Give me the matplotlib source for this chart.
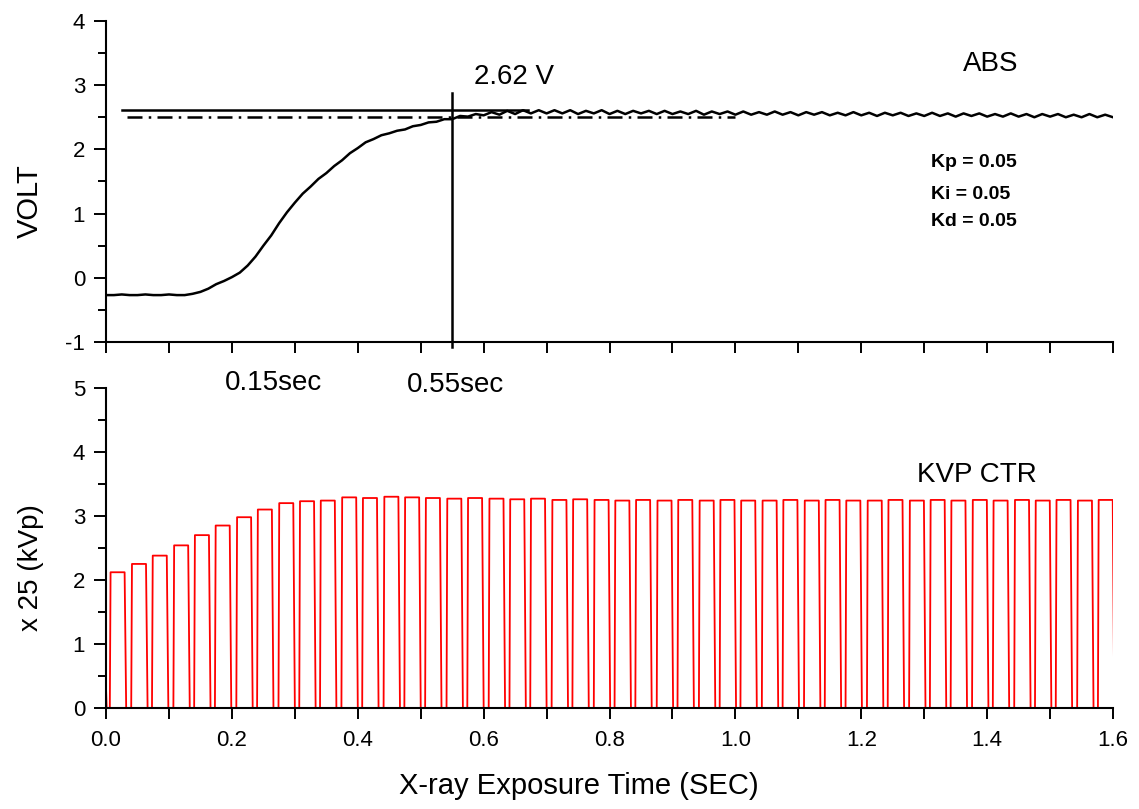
import numpy as np
import matplotlib
matplotlib.use("Agg")
import matplotlib.pyplot as plt
from matplotlib.ticker import MultipleLocator, FormatStrFormatter

plt.rcParams['font.family'] = ['Liberation Sans', 'DejaVu Sans']
plt.rcParams['axes.unicode_minus'] = False

# ABS output (VOLT), sampled every 0.0125 s from 0 to 1.6 s
volt_step = 0.0125
volt = [-0.27, -0.27, -0.26, -0.27, -0.27, -0.26, -0.27, -0.27, -0.26, -0.27,
        -0.27, -0.25, -0.22, -0.17, -0.10, -0.05, 0.01, 0.08, 0.19, 0.33,
        0.50, 0.66, 0.85, 1.02, 1.17, 1.31, 1.42, 1.54, 1.63, 1.74,
        1.83, 1.94, 2.02, 2.11, 2.16, 2.22, 2.25, 2.29, 2.31, 2.36,
        2.38, 2.42, 2.43, 2.47, 2.47, 2.52, 2.51, 2.55, 2.53, 2.58,
        2.54, 2.60, 2.55, 2.61, 2.56, 2.61, 2.56, 2.61, 2.56, 2.61,
        2.55, 2.60, 2.56, 2.61, 2.55, 2.60, 2.55, 2.60, 2.56, 2.60,
        2.55, 2.60, 2.55, 2.59, 2.55, 2.60, 2.54, 2.59, 2.55, 2.59,
        2.54, 2.59, 2.54, 2.58, 2.54, 2.59, 2.54, 2.58, 2.53, 2.58,
        2.54, 2.58, 2.53, 2.57, 2.53, 2.58, 2.53, 2.57, 2.52, 2.57,
        2.53, 2.57, 2.52, 2.56, 2.52, 2.57, 2.52, 2.56, 2.51, 2.56,
        2.52, 2.56, 2.51, 2.55, 2.51, 2.56, 2.51, 2.55, 2.50, 2.55,
        2.51, 2.55, 2.50, 2.54, 2.50, 2.55, 2.50, 2.54, 2.50]

ref_high = 2.62      # solid reference line
ref_low = 2.50       # dash-dot line
t_mark = 0.55        # vertical marker

# KVP CTR pulse train: rise time and top level of each pulse (x 25 kVp)
kvp_rise = [0.006, 0.040, 0.073, 0.107, 0.140, 0.173, 0.207, 0.240, 0.274, 0.307,
            0.340, 0.374, 0.407, 0.441, 0.474, 0.507, 0.541, 0.574, 0.608, 0.641,
            0.674, 0.708, 0.741, 0.775, 0.808, 0.841, 0.875, 0.908, 0.942, 0.975,
            1.008, 1.042, 1.075, 1.109, 1.142, 1.175, 1.209, 1.242, 1.276, 1.309,
            1.342, 1.376, 1.409, 1.443, 1.476, 1.509, 1.543, 1.576]
kvp_top = [2.12, 2.25, 2.38, 2.54, 2.70, 2.85, 2.98, 3.10, 3.20, 3.23,
           3.24, 3.29, 3.28, 3.30, 3.29, 3.28, 3.27, 3.28, 3.27, 3.26,
           3.27, 3.25, 3.26, 3.25, 3.24, 3.25, 3.24, 3.25, 3.24, 3.25,
           3.24, 3.24, 3.25, 3.24, 3.25, 3.24, 3.24, 3.25, 3.24, 3.25,
           3.24, 3.25, 3.24, 3.25, 3.24, 3.25, 3.24, 3.25]
kvp_start = 0.3

volt_t = np.arange(len(volt)) * volt_step

kt, kv = [0.0, 0.001], [kvp_start, 0.0]
for r, h in zip(kvp_rise, kvp_top):
    kt += [r, r + 0.0012, r + 0.0235, r + 0.026]
    kv += [0.0, h, h, 0.0]

fig = plt.figure(figsize=(11.39, 8.09), dpi=100)
ax1 = fig.add_axes([0.0931, 0.5773, 0.8841, 0.3968])
ax2 = fig.add_axes([0.0931, 0.1249, 0.8841, 0.3956])

for ax in (ax1, ax2):
    ax.spines['top'].set_visible(False)
    ax.spines['right'].set_visible(False)
    for s in ('left', 'bottom'):
        ax.spines[s].set_linewidth(1.5)
    ax.set_xlim(0, 1.6)
    ax.tick_params(which='major', length=9, width=1.4, pad=6, labelsize=16)
    ax.tick_params(which='minor', length=6, width=1.4)
    ax.yaxis.set_major_locator(MultipleLocator(1))
    ax.yaxis.set_minor_locator(MultipleLocator(0.5))

# top panel
ax1.plot(volt_t, volt, color='black', lw=1.8)
ax1.plot([0.025, 0.67], [ref_high, ref_high], color='black', lw=1.8)
ax1.plot([0.033, 1.0], [ref_low, ref_low], color='black', lw=1.8,
         linestyle=(0, (6, 2.5, 1, 2.5)))
ax1.plot([t_mark, t_mark], [2.88, -1.08], color='black', lw=1.8, clip_on=False)
ax1.set_ylim(-1, 4)
ax1.xaxis.set_major_locator(MultipleLocator(0.1))
ax1.tick_params(axis='x', labelbottom=False, length=8)
ax1.set_ylabel('VOLT', fontsize=21)
ax1.yaxis.set_label_coords(-0.062, 0.44)

ax1.text(0.585, 3.13, '2.62 V', fontsize=20, va='center')
ax1.text(1.362, 3.33, 'ABS', fontsize=20, va='center')
ax1.text(1.31, 1.79, 'Kp = 0.05', fontsize=14, fontweight='bold', va='center')
ax1.text(1.31, 1.29, 'Ki = 0.05', fontsize=14, fontweight='bold', va='center')
ax1.text(1.31, 0.87, 'Kd = 0.05', fontsize=14, fontweight='bold', va='center')

# time marks between the panels
fig.text(274 / 1139, 1 - 383 / 809, '0.15sec', fontsize=20, ha='center', va='center')
fig.text(456 / 1139, 1 - 385 / 809, '0.55sec', fontsize=20, ha='center', va='center')

# bottom panel
ax2.patch.set_visible(False)
ax2.plot(kt, kv, color='#ff0000', lw=1.3)
ax2.set_ylim(0, 5)
ax2.xaxis.set_major_locator(MultipleLocator(0.2))
ax2.xaxis.set_minor_locator(MultipleLocator(0.1))
ax2.tick_params(axis='x', which='major', length=8, pad=8)
ax2.tick_params(axis='x', which='minor', length=8)
ax2.xaxis.set_major_formatter(FormatStrFormatter('%.1f'))
ax2.set_ylabel('x 25 (kVp)', fontsize=20)
ax2.yaxis.set_label_coords(-0.062, 0.44)
ax2.set_xlabel('X-ray Exposure Time (SEC)', fontsize=21)
ax2.xaxis.set_label_coords(0.469, -0.2)
ax2.text(1.289, 3.64, 'KVP CTR', fontsize=20, va='center')

fig.savefig('out.png', dpi=100)
